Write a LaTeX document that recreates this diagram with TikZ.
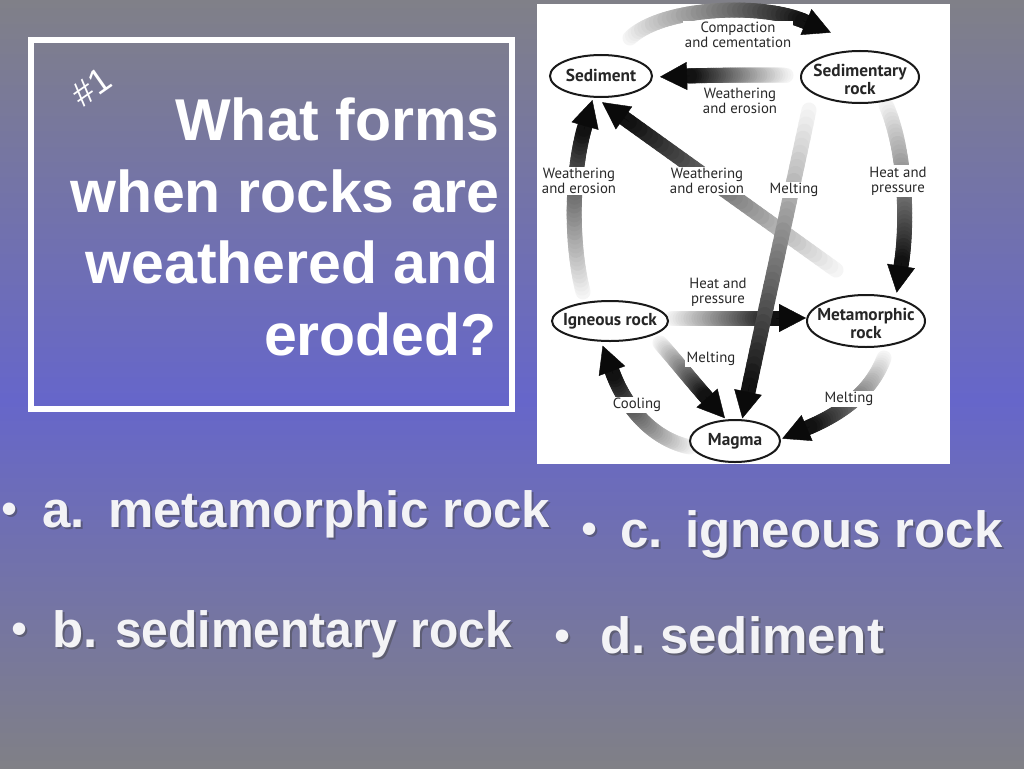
\documentclass[tikz,border=0pt]{standalone}
\usepackage{fontspec}
\setmainfont{Liberation Sans}
\newfontfamily\diagfont{PT Sans}
\usetikzlibrary{shapes.geometric,arrows.meta,calc}

\definecolor{bgtop}{RGB}{128,128,136}
\definecolor{bgmid}{RGB}{102,102,202}
\definecolor{bgbot}{RGB}{128,128,134}
\definecolor{lbl}{RGB}{40,40,40}
\definecolor{anscol}{RGB}{243,243,246}

\tikzset{
  shaft/.style={line width=15pt, line cap=round},
  headtip/.style={line width=0.4pt, black!96, -{Triangle[length=27pt,width=28pt]}},
  lab/.style={font=\diagfont\fontsize{14.8}{15}\selectfont, text=lbl, fill=white, inner sep=1.5pt, align=center},
  rockshape/.style={ellipse, draw=black!90, line width=2pt, fill=white, inner sep=0pt},
  rocktext/.style={font=\diagfont\bfseries\fontsize{17.3}{18}\selectfont, text=black!85, align=center, inner sep=0pt},
  anstext/.style={font=\fontsize{51}{51}\selectfont\bfseries, text=anscol, inner sep=0pt, anchor=base west},
  ansshadow/.style={anstext, text=black!75, opacity=0.45},
  bul/.style={font=\fontsize{46}{46}\selectfont, text=anscol, inner sep=0pt},
  bulshadow/.style={bul, text=black!75, opacity=0.45},
  titleline/.style={font=\fontsize{59}{59}\selectfont\bfseries, text=white, inner sep=0pt, anchor=base east}
}

% gradient arrow: start, control 1, control 2, end of shaft (base of head)
\newcommand\grarrow[4]{%
  \path #1 .. controls #2 and #3 .. #4
    \foreach \k [evaluate=\k as \tv using \k/40] in {0,...,40}{ coordinate[pos=\tv] (gp\k) };
  \foreach \k [evaluate=\k as \kn using int(\k+1), evaluate=\k as \pc using int(4+92*\k/40)] in {0,...,39}
    {\draw[shaft, black!\pc] (gp\k) -- (gp\kn);}
  \draw[headtip] (gp39) -- ($(gp40)!-27pt!(gp39)$);
}

\begin{document}
\begin{tikzpicture}[x=1pt,y=-1pt]
\useasboundingbox (0,0) rectangle (1024,768);
% background
\shade[top color=bgtop, bottom color=bgmid] (0,0) rectangle (1024,400);
\shade[top color=bgmid, bottom color=bgbot] (0,399.5) rectangle (1024,768);

% question box
\draw[white, line width=6pt] (31,40.5) rectangle (511.5,408.5);
\node[font=\fontsize{35}{35}\selectfont, text=white, rotate=35, inner sep=0pt] (num) at (92,87) {\#1};
\node[titleline] (t1) at (500,140) {What forms};
\node[titleline] (t2) at (500,212) {when rocks are};
\node[titleline] (t3) at (499,283) {weathered and};
\node[titleline] (t4) at (497,355) {eroded?};

% diagram panel
\fill[white] (537,4) rectangle (950,464);

% arrows
\grarrow{(630,38)}{(662,7)}{(762,2)}{(806,22)}       % compaction and cementation
\grarrow{(786,75)}{(750,75)}{(720,75)}{(687,76)}     % weathering (top)
\grarrow{(583,292)}{(570,240)}{(572,170)}{(585,126)} % weathering (left)
\grarrow{(836,270)}{(765,219)}{(695,169)}{(624,118)} % weathering (diagonal)
\grarrow{(886,105)}{(906,150)}{(908,225)}{(901,266)} % heat and pressure (right)
\grarrow{(672,318)}{(708,318)}{(743,318)}{(779,318)} % heat and pressure (middle)
\grarrow{(660,343)}{(676,361)}{(691,380)}{(707,398)} % melting igneous
\grarrow{(690,447)}{(655,440)}{(626,410)}{(612,371)} % cooling
\grarrow{(884,358)}{(872,390)}{(845,412)}{(807,428)} % melting metamorphic
\grarrow{(809,110)}{(789,204)}{(768,298)}{(748,392)} % melting sedimentary

% labels
\node[lab] (lc)  at (738,35)  {Compaction\\and cementation};
\node[lab] (lw1) at (740,101) {Weathering\\and erosion};
\node[lab] (lw2) at (579,181) {Weathering\\and erosion};
\node[lab] (lw3) at (707,181) {Weathering\\and erosion};
\node[lab] (lm1) at (794,190) {Melting};
\node[lab] (lh1) at (898,181) {Heat and\\pressure};
\node[lab] (lh2) at (718,292) {Heat and\\pressure};
\node[lab] (lm2) at (711,359) {Melting};
\node[lab] (lco) at (637,405) {Cooling};
\node[lab] (lm3) at (849,399) {Melting};

% rocks
\node[rockshape, minimum width=102pt, minimum height=42pt] (sed) at (601,76) {};
\node[rocktext] at ([yshift=1pt]sed.center) {Sediment};
\node[rockshape, minimum width=118pt, minimum height=52pt] (sedr) at (860,77) {};
\node[rocktext] at ([yshift=-2.5pt]sedr.center) {Sedimentary\\rock};
\node[rockshape, minimum width=116pt, minimum height=40pt] (ign) at (610,321) {};
\node[rocktext] at (ign) {Igneous rock};
\node[rockshape, minimum width=118pt, minimum height=52pt] (met) at (866,321) {};
\node[rocktext] at ([yshift=-2.5pt]met.center) {Metamorphic\\rock};
\node[rockshape, minimum width=90pt, minimum height=42pt] (mag) at (735,441) {};
\node[rocktext] at (mag) {Magma};

% answers
\node[bulshadow] at (12,516) {•};
\node[bul] (ba) at (10,514) {•};
\node[ansshadow] at (44,529) {a.};
\node[anstext] (la) at (42,527) {a.};
\node[ansshadow] at (110,529) {metamorphic rock};
\node[anstext] (aa) at (108,527) {metamorphic rock};

\node[bulshadow] at (592,536) {•};
\node[bul] (bc) at (590,534) {•};
\node[ansshadow] at (622,549) {c.};
\node[anstext] (lc2) at (620,547) {c.};
\node[ansshadow] at (687,549) {igneous rock};
\node[anstext] (ac) at (685,547) {igneous rock};

\node[bulshadow] at (22,636) {•};
\node[bul] (bb) at (20,634) {•};
\node[ansshadow] at (54,649) {b.};
\node[anstext] (lb) at (52,647) {b.};
\node[ansshadow] at (117,649) {\scalebox{0.94}[1]{sedimentary rock}};
\node[anstext] (ab) at (115,647) {\scalebox{0.94}[1]{sedimentary rock}};

\node[bulshadow] at (565,643) {•};
\node[bul] (bd) at (563,641) {•};
\node[ansshadow] at (602,655) {d.};
\node[anstext] (ld) at (600,653) {d.};
\node[ansshadow] at (662,655) {sediment};
\node[anstext] (ad) at (660,653) {sediment};
\end{tikzpicture}
\end{document}
